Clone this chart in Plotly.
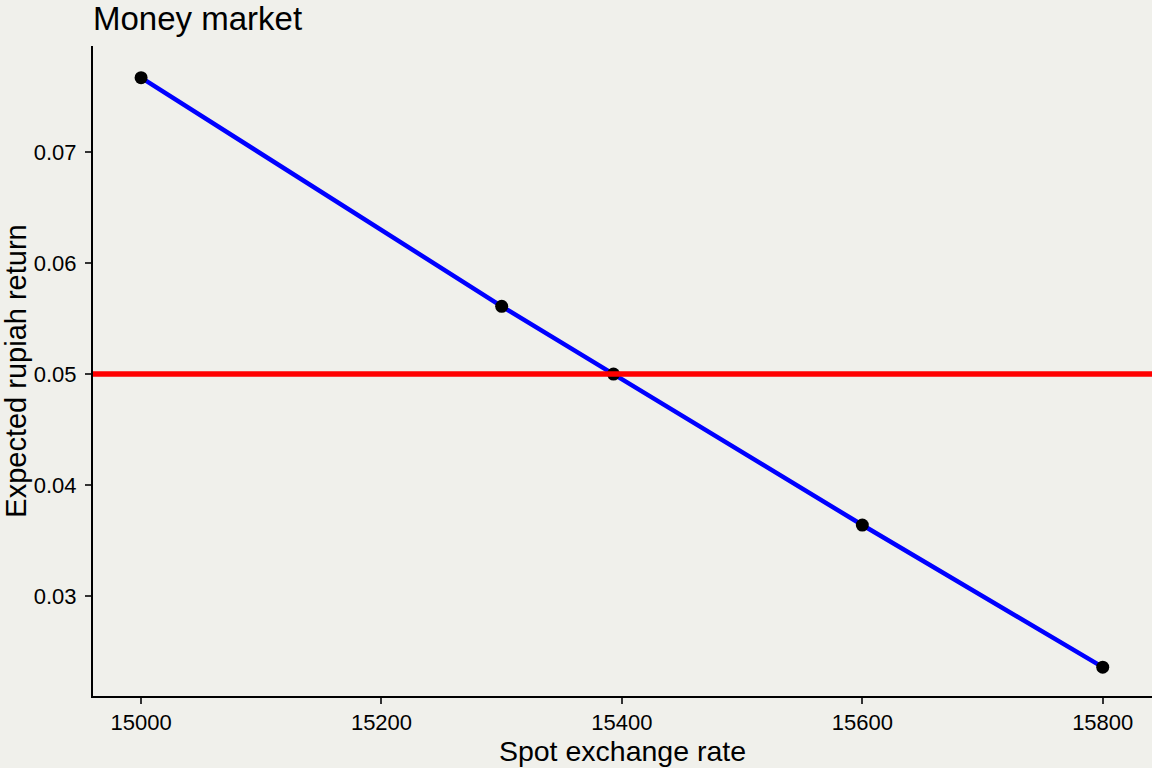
import plotly.graph_objects as go

spot_rate = [15000, 15300, 15393, 15600, 15800]
expected_return = [0.0767, 0.0561, 0.0500, 0.0364, 0.0236]
interest_rate = 0.05

x_ticks = [15000, 15200, 15400, 15600, 15800]
y_ticks = [0.03, 0.04, 0.05, 0.06, 0.07]

bg = "#F0F0EB"
fig = go.Figure()
fig.add_hline(y=interest_rate, line=dict(color="#FF0000", width=5.5), layer="above")
fig.add_trace(go.Scatter(x=spot_rate, y=expected_return, mode="lines",
                         line=dict(color="#0000FF", width=4.5), showlegend=False))
fig.add_trace(go.Scatter(x=spot_rate, y=expected_return, mode="markers",
                         marker=dict(color="black", size=13), showlegend=False))

font = "Arial, Liberation Sans, sans-serif"
fig.update_layout(
    width=1152, height=768,
    paper_bgcolor=bg, plot_bgcolor=bg,
    margin=dict(l=93, r=0, t=46, b=72),
    font=dict(family=font, color="black"),
    title=dict(text="Money market", x=93/1152, xanchor="left", y=0.976, yanchor="middle",
               pad=dict(t=0, b=0, l=0, r=0),
               font=dict(size=33, family=font, color="black")),
    xaxis=dict(range=[14960, 15841], tickvals=x_ticks, ticktext=[str(v) for v in x_ticks],
               showgrid=False, zeroline=False, showline=True, linecolor="black", linewidth=2,
               ticks="outside", ticklen=6, tickwidth=2, tickcolor="#333333",
               tickfont=dict(size=22, color="black"),
               title=dict(text="Spot exchange rate", font=dict(size=28.5), standoff=4)),
    yaxis=dict(range=[0.021, 0.07955], tickvals=y_ticks, ticktext=["%.2f" % v for v in y_ticks],
               showgrid=False, zeroline=False, showline=True, linecolor="black", linewidth=2,
               ticks="outside", ticklen=6, tickwidth=2, tickcolor="#333333",
               ticklabelstandoff=4,
               tickfont=dict(size=22, color="black"),
               title=dict(text="Expected rupiah return", font=dict(size=29), standoff=6)),
)
fig.write_html("out.html", config={"displayModeBar": False},
               post_script="document.body.style.margin='0';")
